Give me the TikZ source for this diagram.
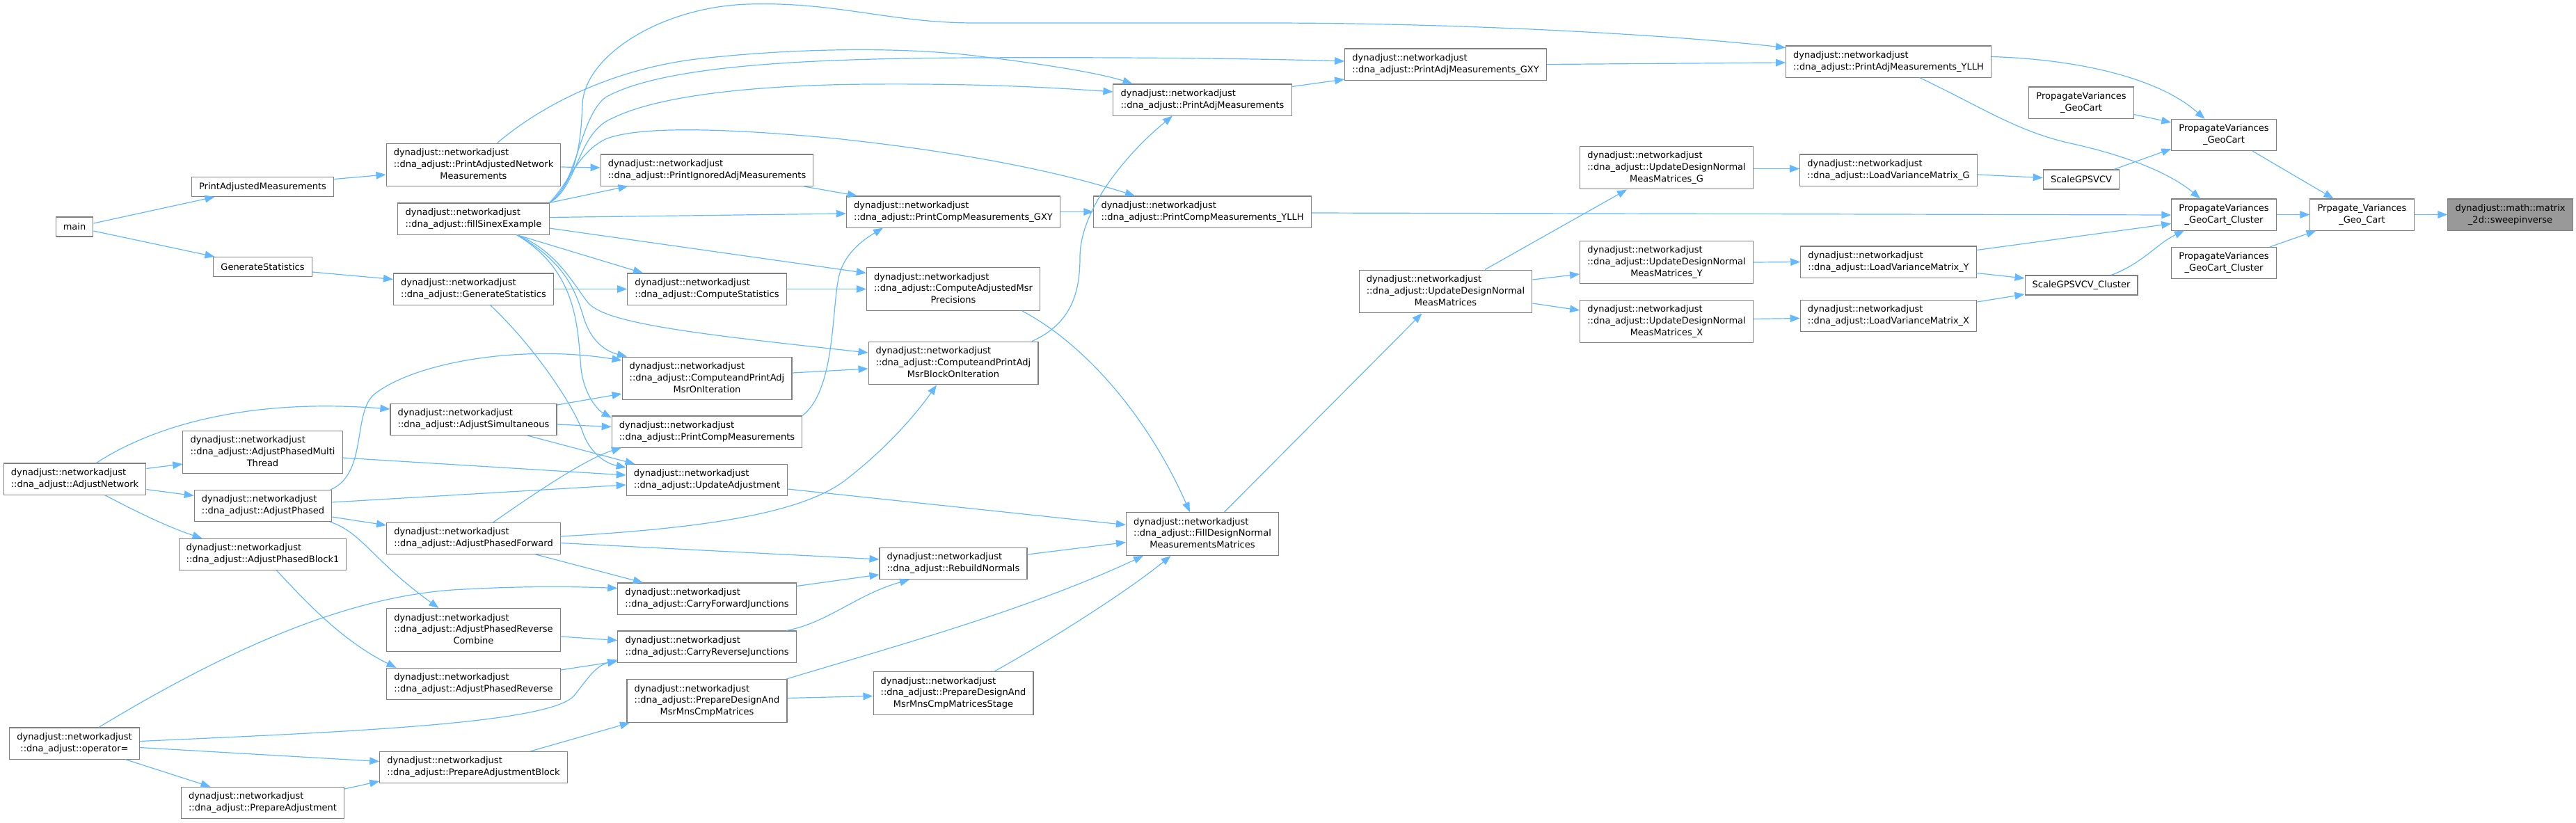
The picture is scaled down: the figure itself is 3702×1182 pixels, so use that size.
\documentclass[tikz,border=0pt]{standalone}
\usepackage{fontspec}
\setmainfont{DejaVu Sans}
\usetikzlibrary{arrows.meta,calc}
\definecolor{edgeblue}{HTML}{63B8FF}
\definecolor{boxgray}{HTML}{808080}
\definecolor{hlgray}{HTML}{999999}
\newcommand{\twol}[2]{\begin{tabular}{@{}l@{}}#1\\\multicolumn{1}{@{}c@{}}{#2}\end{tabular}}
\newcommand{\nsnet}{dynadjust::networkadjust}
\newcommand{\nsdna}{::dna\_adjust::}

\begin{document}
\begin{tikzpicture}[x=0.75pt,y=-0.75pt,
	fn/.style={draw=boxgray,fill=white,line width=0.8pt,inner xsep=8pt,inner ysep=4.3pt,
		minimum height=21pt,font=\fontsize{9.75}{12.6}\selectfont},
	hl/.style={fn,fill=hlgray},
	callarrow/.style={draw=edgeblue,line width=0.9pt,-{Triangle[length=10.5pt,width=8pt]}}]
\path[use as bounding box] (0,0) rectangle (3702,1182);
%
	\node[fn] (main) at (107,326) {main};
	\node[fn] (anet) at (107.5,688.5) {\twol{\nsnet}{\nsdna AdjustNetwork}};
	\node[fn] (opeq) at (107,1068.5) {\twol{\nsnet}{\nsdna operator=}};
%
	\node[fn] (padjm) at (377.5,268.5) {PrintAdjustedMeasurements};
	\node[fn] (gstat) at (377.5,383.5) {GenerateStatistics};
	\node[fn] (apmt) at (377.5,650) {\twol{\nsnet\\\nsdna AdjustPhasedMulti}{Thread}};
	\node[fn] (aph) at (378,727) {\twol{\nsnet}{\nsdna AdjustPhased}};
	\node[fn] (apb1) at (377.5,797) {\twol{\nsnet}{\nsdna AdjustPhasedBlock1}};
	\node[fn] (padj) at (377.5,1154) {\twol{\nsnet}{\nsdna PrepareAdjustment}};
%
	\node[fn] (panm) at (680.5,237) {\twol{\nsnet\\\nsdna PrintAdjustedNetwork}{Measurements}};
	\node[fn] (fse) at (680.5,314.5) {\twol{\nsnet}{\nsdna fillSinexExample}};
	\node[fn] (dgs) at (680.5,415.5) {\twol{\nsnet}{\nsdna GenerateStatistics}};
	\node[fn] (asim) at (680.5,603) {\twol{\nsnet}{\nsdna AdjustSimultaneous}};
	\node[fn] (apf) at (680.5,774) {\twol{\nsnet}{\nsdna AdjustPhasedForward}};
	\node[fn] (aprc) at (680.5,905.5) {\twol{\nsnet\\\nsdna AdjustPhasedReverse}{Combine}};
	\node[fn] (apr) at (680.5,983) {\twol{\nsnet}{\nsdna AdjustPhasedReverse}};
	\node[fn] (pab) at (680.5,1103) {\twol{\nsnet}{\nsdna PrepareAdjustmentBlock}};
%
	\node[fn] (pigm) at (1016,244.5) {\twol{\nsnet}{\nsdna PrintIgnoredAdjMeasurements}};
	\node[fn] (cstat) at (1016,415.5) {\twol{\nsnet}{\nsdna ComputeStatistics}};
	\node[fn] (cpoi) at (1016,544) {\twol{\nsnet\\\nsdna ComputeandPrintAdj}{MsrOnIteration}};
	\node[fn] (pcm) at (1016,620.5) {\twol{\nsnet}{\nsdna PrintCompMeasurements}};
	\node[fn] (uadj) at (1016,690) {\twol{\nsnet}{\nsdna UpdateAdjustment}};
	\node[fn] (cfj) at (1016,860.5) {\twol{\nsnet}{\nsdna CarryForwardJunctions}};
	\node[fn] (crj) at (1016,929.5) {\twol{\nsnet}{\nsdna CarryReverseJunctions}};
	\node[fn] (pdm) at (1016,1007.5) {\twol{\nsnet\\\nsdna PrepareDesignAnd}{MsrMnsCmpMatrices}};
%
	\node[fn] (pcgxy) at (1370,304.5) {\twol{\nsnet}{\nsdna PrintCompMeasurements\_GXY}};
	\node[fn] (camp) at (1370,415.5) {\twol{\nsnet\\\nsdna ComputeAdjustedMsr}{Precisions}};
	\node[fn] (cpboi) at (1370,522) {\twol{\nsnet\\\nsdna ComputeandPrintAdj}{MsrBlockOnIteration}};
	\node[fn] (rbn) at (1370,810) {\twol{\nsnet}{\nsdna RebuildNormals}};
	\node[fn] (pdms) at (1370,996.5) {\twol{\nsnet\\\nsdna PrepareDesignAnd}{MsrMnsCmpMatricesStage}};
%
	\node[fn] (pam) at (1728,143.5) {\twol{\nsnet}{\nsdna PrintAdjMeasurements}};
	\node[fn] (pcyllh) at (1728,304.5) {\twol{\nsnet}{\nsdna PrintCompMeasurements\_YLLH}};
	\node[fn] (fdn) at (1728,767.5) {\twol{\nsnet\\\nsdna FillDesignNormal}{MeasurementsMatrices}};
%
	\node[fn] (pagxy) at (2077.5,92.5) {\twol{\nsnet}{\nsdna PrintAdjMeasurements\_GXY}};
	\node[fn] (udn) at (2077.5,419) {\twol{\nsnet\\\nsdna UpdateDesignNormal}{MeasMatrices}};
%
	\node[fn] (udng) at (2395,241) {\twol{\nsnet\\\nsdna UpdateDesignNormal}{MeasMatrices\_G}};
	\node[fn] (udny) at (2395,377) {\twol{\nsnet\\\nsdna UpdateDesignNormal}{MeasMatrices\_Y}};
	\node[fn] (udnx) at (2395,462) {\twol{\nsnet\\\nsdna UpdateDesignNormal}{MeasMatrices\_X}};
%
	\node[fn] (payllh) at (2714,88.5) {\twol{\nsnet}{\nsdna PrintAdjMeasurements\_YLLH}};
	\node[fn] (lvg) at (2714,244.5) {\twol{\nsnet}{\nsdna LoadVarianceMatrix\_G}};
	\node[fn] (lvy) at (2714,376.5) {\twol{\nsnet}{\nsdna LoadVarianceMatrix\_Y}};
	\node[fn] (lvx) at (2714,454) {\twol{\nsnet}{\nsdna LoadVarianceMatrix\_X}};
%
	\node[fn] (pvgcb) at (2991,147.5) {\twol{PropagateVariances}{\_GeoCart}};
	\node[fn] (sgps) at (2991,258) {ScaleGPSVCV};
	\node[fn] (sgpsc) at (2991,410) {ScaleGPSVCV\_Cluster};
%
	\node[fn] (pvgc) at (3196,194) {\twol{PropagateVariances}{\_GeoCart}};
	\node[fn] (pvgcc) at (3196,308.5) {\twol{PropagateVariances}{\_GeoCart\_Cluster}};
	\node[fn] (pvgccb) at (3196,378) {\twol{PropagateVariances}{\_GeoCart\_Cluster}};
	\node[fn] (prp) at (3394.5,308.5) {\twol{Prpagate\_Variances}{\_Geo\_Cart}};
	\node[hl] (swp) at (3607.5,308.5) {\twol{dynadjust::math::matrix}{\_2d::sweepinverse}};
%
	\draw[callarrow] ($(main.east)+(0,-5)$) -- ($(padjm.south)+(-69,0)$);
	\draw[callarrow] ($(main.east)+(0,6)$) -- ($(gstat.north)+(-69,0)$);
	\draw[callarrow] ($(padjm.east)+(0,-11)$) -- ($(panm.west)+(0,14)$);
	\draw[callarrow] ($(gstat.east)+(0,7.5)$) -- ($(dgs.west)+(0,-14)$);
%
	\draw[callarrow] ($(anet.north)+(31,0)$) .. controls (200,625) and (330,570) .. ($(asim.west)+(0,-15)$);
	\draw[callarrow] ($(anet.east)+(0,-15)$) -- ($(apmt.west)+(0,17)$);
	\draw[callarrow] ($(anet.east)+(0,15)$) -- ($(aph.west)+(0,-14.5)$);
	\draw[callarrow] ($(anet.south)+(43,0)$) .. controls (195,735) and (240,757) .. ($(apb1.north)+(-87,0)$);
%
	\draw[callarrow] ($(aph.north)+(97,0)$) .. controls (530,680) and (505,590) .. (540,565)
		.. controls (600,520) and (750,495) .. ($(cpoi.west)+(0,-26)$);
	\draw[callarrow] ($(aph.east)+(0,-5)$) -- ($(uadj.west)+(0,7)$);
	\draw[callarrow] ($(aph.east)+(0,16)$) -- ($(apf.west)+(0,-19)$);
	\draw[callarrow] ($(aph.south)+(96,0)$) .. controls (520,765) and (535,805) .. ($(aprc.north)+(-50,0)$);
	\draw[callarrow] ($(apmt.east)+(0,8)$) -- ($(uadj.west)+(0,-7)$);
	\draw[callarrow] ($(apb1.south)+(20,0)$) .. controls (440,865) and (490,920) .. ($(apr.north)+(-111,0)$);
%
	\draw[callarrow] ($(opeq.north)+(35,0)$) .. controls (300,950) and (480,860) .. (650,848)
		.. controls (750,842) and (820,843) .. ($(cfj.west)+(0,-15)$);
	\draw[callarrow] ($(opeq.east)+(0,-3)$) .. controls (500,1052) and (790,1040) .. (825,1000)
		.. controls (845,975) and (855,958) .. ($(crj.west)+(0,19)$);
	\draw[callarrow] ($(opeq.east)+(0,6)$) -- ($(pab.west)+(0,-8.5)$);
	\draw[callarrow] ($(opeq.south)+(73,0)$) -- ($(padj.north)+(-75,0)$);
	\draw[callarrow] ($(padj.east)+(0,-20)$) -- ($(pab.west)+(0,20)$);
%
	\draw[callarrow] ($(panm.east)+(0,3)$) -- ($(pigm.west)+(0,-3.5)$);
	\draw[callarrow] ($(panm.north)+(34,0)$) .. controls (780,150) and (880,100) .. (1000,85)
		.. controls (1150,68) and (1300,68) .. (1400,80) .. controls (1500,92) and (1580,105) .. ($(pam.north)+(-100.5,0)$);
%
	\draw[callarrow] (fse.north east) -- ($(pigm.south)+(-113.5,0)$);
	\draw[callarrow] ($(fse.east)+(0,-2)$) -- ($(pcgxy.west)+(0,2.5)$);
	\draw[callarrow] ($(fse.east)+(0,13.5)$) -- ($(camp.west)+(0,-23)$);
	\draw[callarrow] ($(fse.south)+(62,0)$) -- ($(cstat.north)+(-92,0)$);
	\draw[callarrow] ($(fse.south)+(62,0)$) .. controls (800,360) and (825,410) .. (845,435)
		.. controls (870,465) and (1000,480) .. ($(cpboi.west)+(0,-15)$);
	\draw[callarrow] ($(fse.south)+(62,0)$) .. controls (820,380) and (830,430) .. (840,460)
		.. controls (850,490) and (870,505) .. ($(cpoi.north)+(-115,0)$);
	\draw[callarrow] ($(fse.south)+(62,0)$) .. controls (830,390) and (830,470) .. (835,530)
		.. controls (840,570) and (860,590) .. ($(pcm.west)+(0,-20)$);
	\draw[callarrow] (fse.north east) .. controls (830,260) and (835,200) .. (837,150)
		.. controls (840,80) and (950,10) .. (1075,6) .. controls (1200,2) and (1280,33) .. (1400,33)
		-- (1820,33) .. controls (2100,33) and (2400,50) .. ($(payllh.west)+(0,-20)$);
	\draw[callarrow] (fse.north east) .. controls (830,265) and (832,170) .. (870,140)
		.. controls (950,95) and (1150,84) .. (1400,83) .. controls (1600,82) and (1800,84) .. ($(pagxy.west)+(0,-4.5)$);
	\draw[callarrow] (fse.north east) .. controls (830,270) and (830,190) .. (880,170)
		.. controls (950,135) and (1100,122) .. (1250,121) .. controls (1400,120) and (1500,125) .. ($(pam.west)+(0,-11.5)$);
	\draw[callarrow] (fse.north east) .. controls (820,260) and (830,220) .. (870,200)
		.. controls (920,180) and (1050,185) .. (1200,199) .. controls (1350,215) and (1500,240) .. ($(pcyllh.north)+(-97,0)$);
%
	\draw[callarrow] (dgs.east) -- (cstat.west);
	\draw[callarrow] ($(dgs.south)+(24,0)$) .. controls (770,500) and (825,585) .. (837,620)
		.. controls (845,645) and (865,665) .. ($(uadj.west)+(0,-18)$);
	\draw[callarrow] ($(asim.east)+(0,-21)$) -- ($(cpoi.west)+(0,22)$);
	\draw[callarrow] ($(asim.east)+(0,7)$) -- ($(pcm.west)+(0,-7)$);
	\draw[callarrow] ($(asim.south)+(77.5,0)$) -- ($(uadj.north)+(-103.5,0)$);
	\draw[callarrow] ($(apf.north)+(28,0)$) .. controls (760,715) and (840,660) .. ($(pcm.south)+(-123,0)$);
	\draw[callarrow] ($(apf.east)+(0,-3)$) .. controls (1000,760) and (1150,740) .. (1215,690)
		.. controls (1280,640) and (1320,590) .. ($(cpboi.south)+(-24,0)$);
	\draw[callarrow] ($(apf.east)+(0,6.5)$) -- ($(rbn.west)+(0,-6)$);
	\draw[callarrow] ($(apf.south)+(89.5,0)$) -- ($(cfj.north)+(-92,0)$);
	\draw[callarrow] ($(aprc.east)+(0,9.5)$) -- ($(crj.west)+(0,-9)$);
	\draw[callarrow] ($(apr.east)+(0,-20)$) -- ($(crj.west)+(0,21)$);
	\draw[callarrow] ($(pab.north)+(81.5,0)$) -- ($(pdm.south)+(-111,0)$);
%
	\draw[callarrow] ($(pigm.south)+(137,0)$) -- ($(pcgxy.north)+(-138,0)$);
	\draw[callarrow] (cstat.east) -- (camp.west);
	\draw[callarrow] ($(cpoi.east)+(0,-8)$) -- ($(cpboi.west)+(0,8)$);
	\draw[callarrow] (pcm.north east) .. controls (1200,560) and (1195,450) .. (1205,400)
		.. controls (1212,365) and (1240,345) .. ($(pcgxy.south)+(-101,0)$);
	\draw[callarrow] ($(uadj.east)+(0,13)$) -- ($(fdn.west)+(0,-13)$);
	\draw[callarrow] ($(cfj.east)+(0,-18)$) -- ($(rbn.west)+(0,16)$);
	\draw[callarrow] ($(crj.north)+(114,0)$) .. controls (1190,895) and (1230,855) .. ($(rbn.south)+(-63,0)$);
	\draw[callarrow] ($(pdm.north)+(114,0)$) .. controls (1300,925) and (1480,875) .. ($(fdn.south)+(-85,0)$);
	\draw[callarrow] ($(pdm.east)+(0,-4)$) -- ($(pdms.west)+(0,4)$);
%
	\draw[callarrow] (pcgxy.east) -- (pcyllh.west);
	\draw[callarrow] ($(camp.south)+(99,0)$) .. controls (1560,495) and (1650,600) .. ($(fdn.north)+(-18,0)$);
	\draw[callarrow] ($(cpboi.north)+(113,0)$) .. controls (1540,465) and (1552,420) .. (1552,370)
		.. controls (1552,300) and (1620,220) .. ($(pam.south)+(-43,0)$);
	\draw[callarrow] ($(rbn.east)+(0,-13)$) -- ($(fdn.west)+(0,12)$);
	\draw[callarrow] ($(pdms.north)+(59,0)$) .. controls (1510,920) and (1620,850) .. ($(fdn.south)+(-45.5,0)$);
%
	\draw[callarrow] ($(pam.east)+(0,-19)$) -- ($(pagxy.west)+(0,21.5)$);
	\draw[callarrow] ($(pcyllh.east)+(0,1.5)$) -- ($(pvgcc.west)+(0,0.5)$);
	\draw[callarrow] ($(fdn.north)+(31.5,0)$) -- ($(udn.south)+(-34,0)$);
	\draw[callarrow] (pagxy.east) -- ($(payllh.west)+(0,1.5)$);
	\draw[callarrow] ($(udn.north)+(56.5,0)$) -- ($(udng.south)+(-57,0)$);
	\draw[callarrow] ($(udn.east)+(0,-17)$) -- ($(udny.west)+(0,17)$);
	\draw[callarrow] ($(udn.east)+(0,17)$) -- ($(udnx.west)+(0,-16)$);
	\draw[callarrow] ($(udng.east)+(0,1.5)$) -- ($(lvg.west)+(0,-2)$);
	\draw[callarrow] (udny.east) -- (lvy.west);
	\draw[callarrow] ($(udnx.east)+(0,-3.5)$) -- ($(lvx.west)+(0,3.5)$);
%
	\draw[callarrow] ($(payllh.east)+(0,-7)$) .. controls (2980,85) and (3100,110) .. ($(pvgc.north)+(-27.5,0)$);
	\draw[callarrow] ($(payllh.south)+(44.5,0)$) .. controls (2850,155) and (2900,190) .. (2980,207)
		.. controls (3060,225) and (3120,250) .. ($(pvgcc.north)+(-34,0)$);
	\draw[callarrow] ($(lvg.east)+(0,6.5)$) -- ($(sgps.west)+(0,-2.5)$);
	\draw[callarrow] ($(lvy.east)+(0,-17)$) -- ($(pvgcc.west)+(0,13)$);
	\draw[callarrow] ($(lvy.east)+(0,16)$) -- ($(sgpsc.west)+(0,-10)$);
	\draw[callarrow] ($(lvx.east)+(0,-20)$) -- ($(sgpsc.west)+(0,13)$);
	\draw[callarrow] ($(sgps.north)+(47,0)$) -- ($(pvgc.west)+(0,20)$);
	\draw[callarrow] ($(sgpsc.north)+(43,0)$) .. controls (3080,378) and (3100,350) .. ($(pvgcc.south)+(-57,0)$);
	\draw[callarrow] ($(pvgcb.east)+(0,17)$) -- ($(pvgc.west)+(0,-18)$);
	\draw[callarrow] ($(pvgc.south)+(41,0)$) -- ($(prp.north)+(-41,0)$);
	\draw[callarrow] (pvgcc.east) -- (prp.west);
	\draw[callarrow] ($(pvgccb.north)+(66,0)$) -- ($(prp.south)+(-66,0)$);
	\draw[callarrow] (prp.east) -- (swp.west);
\end{tikzpicture}
\end{document}
